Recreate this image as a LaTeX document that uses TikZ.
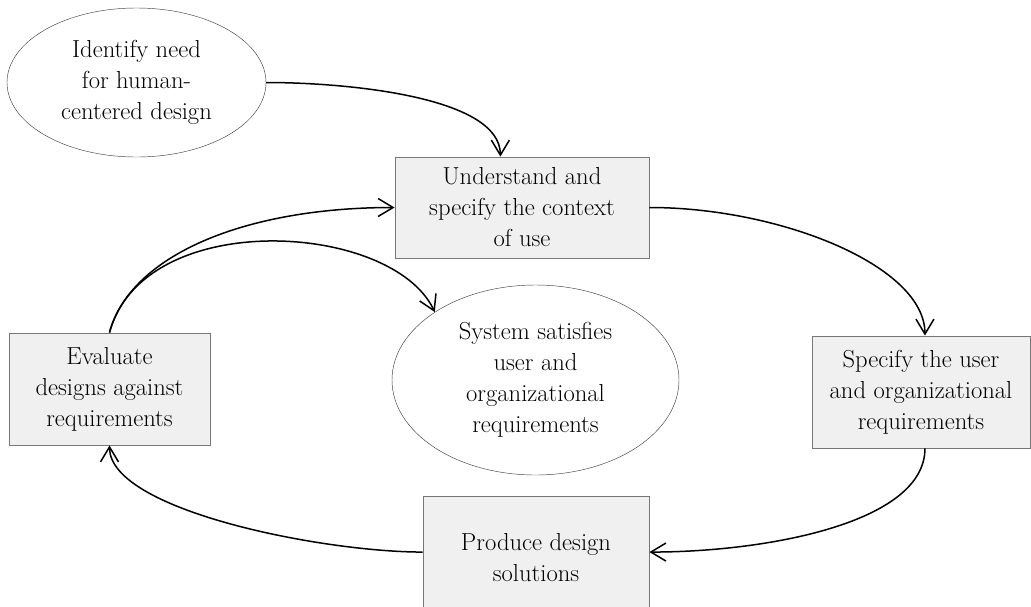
\documentclass[tikz,border=0pt]{standalone}
\usetikzlibrary{shapes.geometric,arrows.meta}
\definecolor{boxfill}{HTML}{F0F0F0}
\definecolor{boxline}{HTML}{777777}
\begin{document}
\begin{tikzpicture}[x=1pt,y=1pt,
  every node/.style={inner sep=0pt, align=center,
    font=\fontsize{24.6}{31}\selectfont},
  stepbox/.style={rectangle, draw=boxline, fill=boxfill, line width=0.9pt},
  oval/.style={ellipse, draw=black!75, line width=0.45pt},
  flow/.style={line width=1.5pt, -{Straight Barb[length=15pt,width=18pt]}}]
\useasboundingbox (0,0) rectangle (1031,-606);

% activities and goals of the design cycle
\node[oval, minimum width=259, minimum height=149] (need) at (136.5,-82.5)
  {Identify need\\for human-\\centered design};
\node[stepbox, minimum width=254, minimum height=101] (ctx) at (522,-207.5)
  {Understand and\\specify the context\\of use};
\node[stepbox, minimum width=218, minimum height=112] (req) at (921,-392)
  {Specify the user\\and organizational\\requirements};
\node[stepbox, minimum width=226, minimum height=124] (sol) at (536,-558)
  {Produce design\\solutions};
\node[stepbox, minimum width=201, minimum height=112] (eval) at (109.5,-389)
  {Evaluate\\designs against\\requirements};
\node[oval, minimum width=287, minimum height=190] (sat) at (535.5,-380)
  {System satisfies\\user and\\organizational\\requirements};

% iteration arrows
\draw[flow] (need.east) to[out=0,in=90,out distance=80,in distance=60] (ctx.113);
\draw[flow] (ctx.east) to[out=0,in=90,out distance=130,in distance=70] (req.86);
\draw[flow] (req.-86) to[out=-90,in=0,out distance=75,in distance=115] (sol.3);
\draw[flow] (sol.177) to[out=180,in=-90,out distance=100,in distance=65] (eval.south);
\draw[flow] (eval.north) to[out=75,in=180,out distance=80,in distance=150] (ctx.west);
\draw[flow] (eval.north) to[out=75,in=115,out distance=130,in distance=100] (sat.146);
\end{tikzpicture}
\end{document}
